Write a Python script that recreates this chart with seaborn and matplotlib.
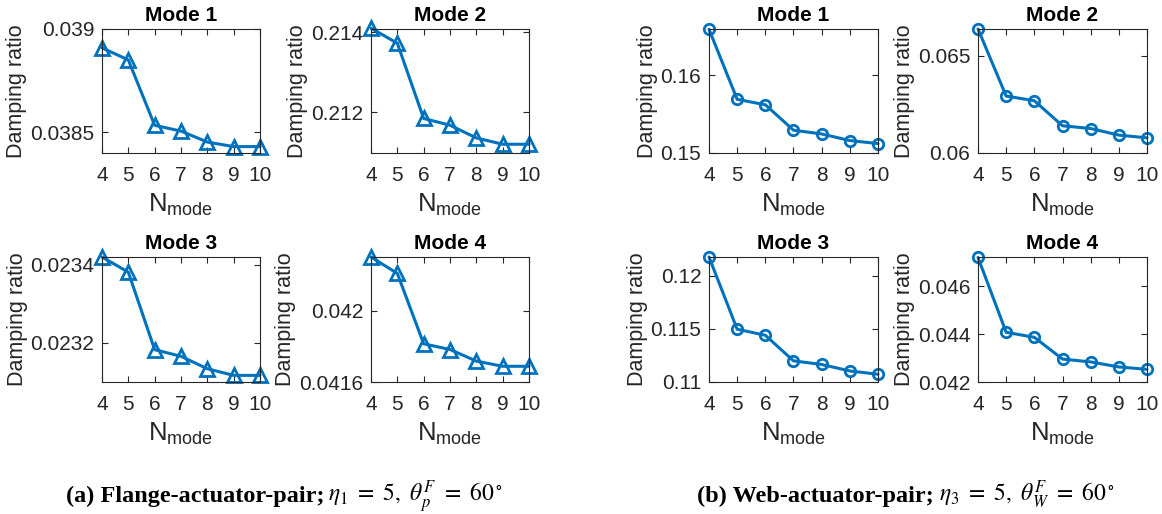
import matplotlib
matplotlib.use("Agg")
import matplotlib.pyplot as plt
import numpy as np
import pandas as pd
import seaborn as sns

# Number of retained modes
n_mode = [4, 5, 6, 7, 8, 9, 10]

# Flange-actuator-pair damping ratios
flange_mode1 = [0.038909, 0.038850, 0.038534, 0.038506, 0.038453, 0.038431, 0.038431]
flange_mode2 = [0.214100, 0.213725, 0.211850, 0.211683, 0.211365, 0.211208, 0.211208]
flange_mode3 = [0.023420, 0.023381, 0.023182, 0.023165, 0.023133, 0.023116, 0.023116]
flange_mode4 = [0.042300, 0.042208, 0.041814, 0.041782, 0.041717, 0.041688, 0.041688]

# Web-actuator-pair damping ratios
web_mode1 = [0.16590, 0.15690, 0.15620, 0.15293, 0.15245, 0.15160, 0.15121]
web_mode2 = [0.06638, 0.06293, 0.06269, 0.06140, 0.06126, 0.06092, 0.06078]
web_mode3 = [0.12177, 0.11497, 0.11440, 0.11199, 0.11165, 0.11104, 0.11073]
web_mode4 = [0.04721, 0.04408, 0.04387, 0.04296, 0.04284, 0.04263, 0.04253]

mode_titles = ["Mode 1", "Mode 2", "Mode 3", "Mode 4"]

flange_ticks = [[0.0385, 0.039], [0.212, 0.214], [0.0232, 0.0234], [0.0416, 0.042]]
web_ticks = [[0.15, 0.16], [0.06, 0.065], [0.11, 0.115, 0.12], [0.042, 0.044, 0.046]]

caption_a = "(a) Flange-actuator-pair;"
caption_a_math = r"$\eta_1\ =\ 5,\ \theta_p^F\ =\ 60^\circ$"
caption_b = "(b) Web-actuator-pair;"
caption_b_math = r"$\eta_3\ =\ 5,\ \theta_W^F\ =\ 60^\circ$"

sns.set_theme(style="ticks")
plt.rcParams["font.family"] = ["Liberation Sans", "DejaVu Sans"]
plt.rcParams["mathtext.fontset"] = "custom"
plt.rcParams["mathtext.rm"] = "Liberation Sans"
plt.rcParams["mathtext.it"] = "Liberation Sans:italic"

W, H = 1162, 514
fig = plt.figure(figsize=(W / 100, H / 100), dpi=100)

LINE = "#0072BD"
INK = "#262626"


def px_axes(x0, y0, x1, y1):
    return fig.add_axes([x0 / W, 1 - y1 / H, (x1 - x0) / W, (y1 - y0) / H])


def draw_panel(ax, values, title, ticks, ylim, marker, msize):
    df = pd.DataFrame({"N": n_mode, "ratio": values})
    sns.lineplot(data=df, x="N", y="ratio", ax=ax, color=LINE, linewidth=2.2,
                 marker=marker, markersize=msize, markerfacecolor="none",
                 markeredgecolor=LINE, markeredgewidth=2.0, clip_on=False)
    ax.set_xlim(4, 10)
    ax.set_xticks(n_mode)
    ax.set_ylim(*ylim)
    ax.set_yticks(ticks)
    ax.set_yticklabels([f"{t:g}" for t in ticks])
    ax.tick_params(direction="in", length=4, width=0.8, top=True, right=True,
                   labelsize=15, colors=INK)
    ax.tick_params(axis="y", pad=5.5)
    ax.tick_params(axis="x", pad=9.5)
    for s in ax.spines.values():
        s.set_color(INK)
        s.set_linewidth(0.8)
    ax.set_title(title, fontsize=15, fontweight="bold", pad=6, color="black")
    ax.set_xlabel(r"$\mathregular{N_{mode}}$", fontsize=18.5, color=INK, labelpad=4.5)
    ax.set_ylabel("Damping ratio", fontsize=15.5, color=INK, labelpad=2)


flange_vals = [flange_mode1, flange_mode2, flange_mode3, flange_mode4]
web_vals = [web_mode1, web_mode2, web_mode3, web_mode4]

flange_lims = [(0.0384, 0.03900), (0.21099, 0.21408), (0.023099, 0.02342), (0.0416, 0.0423)]
web_lims = [(0.15, 0.16594), (0.06, 0.06638), (0.11, 0.12177), (0.042, 0.04723)]

flange_boxes = [(102, 29, 260, 153), (371, 29, 529, 153),
                (102, 257, 260, 382), (371, 257, 529, 382)]
web_boxes = [(709, 29, 878, 153), (978, 29, 1147, 153),
             (709, 257, 878, 382), (978, 257, 1147, 382)]

for i in range(4):
    ax = px_axes(*flange_boxes[i])
    draw_panel(ax, flange_vals[i], mode_titles[i], flange_ticks[i], flange_lims[i], "^", 10)
    ax = px_axes(*web_boxes[i])
    draw_panel(ax, web_vals[i], mode_titles[i], web_ticks[i], web_lims[i], "o", 7.5)

# Sub-figure captions
cap_kw = dict(fontsize=17.5, va="baseline", color="black")
math_kw = dict(fontsize=17, va="baseline", color="black", math_fontfamily="stix")
fig.text(325 / W, 1 - 502 / H, caption_a, ha="right", family="Liberation Serif",
         fontweight="bold", **cap_kw)
fig.text(328 / W, 1 - 502 / H, caption_a_math, ha="left", **math_kw)
fig.text(934 / W, 1 - 502 / H, caption_b, ha="right", family="Liberation Serif",
         fontweight="bold", **cap_kw)
fig.text(939 / W, 1 - 502 / H, caption_b_math, ha="left", **math_kw)

fig.savefig("out.png", dpi=100)
